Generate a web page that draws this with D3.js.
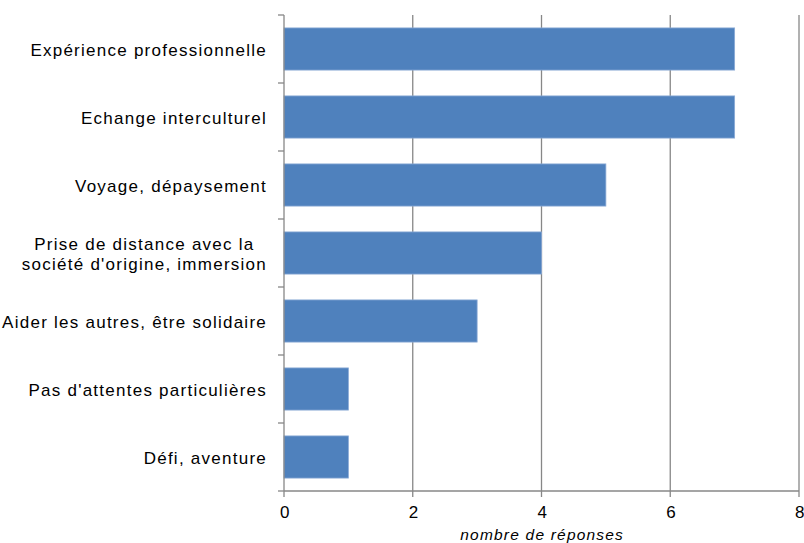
<!DOCTYPE html>
<html><head><meta charset="utf-8">
<script src="https://cdn.jsdelivr.net/npm/d3@7"></script>
<style>body{margin:0;background:#fff}svg{display:block;font-family:"Liberation Sans",Arial,sans-serif}</style>
</head><body>
<svg id="c" width="804" height="543"></svg>
<script>
const categories = [
  ["Expérience professionnelle"],
  ["Echange interculturel"],
  ["Voyage, dépaysement"],
  ["Prise de distance avec la", "société d'origine, immersion"],
  ["Aider les autres, être solidaire"],
  ["Pas d'attentes particulières"],
  ["Défi, aventure"]
];
const values = [7, 7, 5, 4, 3, 1, 1];
const xTicks = [0, 2, 4, 6, 8];
const xTitle = "nombre de réponses";

const svg = d3.select("#c");
const L = 284, R = 799, T = 15, B = 491;
const x = d3.scaleLinear().domain([0, 8]).range([L, R]);
const keys = categories.map((d, i) => i);
const y = d3.scaleBand().domain(keys).range([T, B]).paddingInner(0.38).paddingOuter(0.19);
const grid = "#878787";

// gridlines
svg.append("g").selectAll("line").data(xTicks.filter(t => t > 0)).join("line")
  .attr("x1", d => x(d)).attr("x2", d => x(d)).attr("y1", T).attr("y2", B)
  .attr("stroke", grid).attr("stroke-width", 1.3);

// bars
svg.append("g").selectAll("rect").data(values).join("rect")
  .attr("x", x(0)).attr("y", (d, i) => y(i))
  .attr("width", d => x(d) - x(0)).attr("height", y.bandwidth())
  .attr("fill", "#4F81BD").attr("stroke", "#8aaad6").attr("stroke-width", 0.8);

// left axis
const step = (B - T) / categories.length;
svg.append("line").attr("x1", L).attr("x2", L).attr("y1", T).attr("y2", B).attr("stroke", grid).attr("stroke-width", 1.3);
svg.append("g").selectAll("line").data(d3.range(categories.length + 1)).join("line")
  .attr("x1", L - 6).attr("x2", L).attr("y1", d => T + d * step).attr("y2", d => T + d * step)
  .attr("stroke", grid).attr("stroke-width", 1.3);

// bottom axis
svg.append("line").attr("x1", L).attr("x2", R).attr("y1", B).attr("y2", B).attr("stroke", grid).attr("stroke-width", 1.3);
svg.append("g").selectAll("line").data(xTicks).join("line")
  .attr("x1", d => x(d)).attr("x2", d => x(d)).attr("y1", B).attr("y2", B + 6)
  .attr("stroke", grid).attr("stroke-width", 1.3);
svg.append("g").selectAll("text").data(xTicks).join("text")
  .attr("x", d => x(d) + 0.8).attr("y", 518).attr("text-anchor", "middle")
  .attr("font-size", 17).attr("fill", "#000").text(d => d);

svg.append("text").attr("x", (L + R) / 2 + 0.7).attr("y", 540).attr("text-anchor", "middle")
  .attr("font-size", 15.5).attr("font-style", "italic").attr("letter-spacing", 1.2).text(xTitle);

// category labels
const lab = svg.append("g");
categories.forEach((lines, i) => {
  const cy = T + (i + 0.5) * step;
  const g = lab.append("g");
  const lh = 20;
  const texts = lines.map((s, j) => g.append("text")
    .attr("y", cy + 6.5 + (j - (lines.length - 1) / 2) * lh)
    .attr("font-size", 17).attr("letter-spacing", 1.25).attr("fill", "#000").text(s));
  const widths = texts.map(t => t.node().getComputedTextLength());
  const maxW = d3.max(widths);
  const right = 267;
  texts.forEach((t, j) => t.attr("x", right - maxW / 2 - widths[j] / 2));
});
</script>
</body></html>
